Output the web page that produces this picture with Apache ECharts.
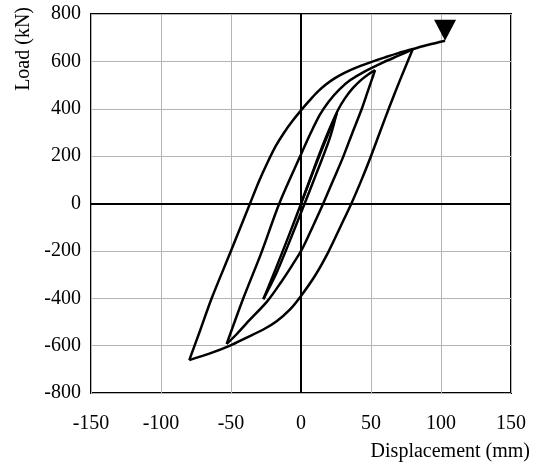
<!DOCTYPE html>
<html>
<head>
<meta charset="utf-8">
<script src="https://cdn.jsdelivr.net/npm/echarts@6/dist/echarts.min.js"></script>
<style>
  html, body { margin: 0; padding: 0; background: #fff; }
  #chart { width: 533px; height: 467px; }
</style>
</head>
<body>
<div id="chart"></div>
<script>
// Hysteresis curve, [displacement mm, load kN]
const initialLoad = [[0, 0], [12, 185], [25.5, 381]];
const cycle1Unload = [[20.5, 275], [10.9, 125], [0.9, -25], [-9.5, -180], [-18, -300], [-26.9, -404]];
const cycle1Reload = [[-18, -275], [-8, -125], [2, 30], [12.4, 198], [20, 310], [26.7, 398],
  [31.5, 445], [37, 487], [43, 522], [48, 545], [52.9, 563]];
const cycle2Unload = [[47.5, 470], [43.3, 398], [36.8, 300], [30.2, 198], [23, 98], [15.9, 0],
  [8.2, -100], [1, -190], [-6, -258], [-14, -330], [-24, -412], [-38.8, -505], [-46, -552], [-53.1, -593]];
const cycle2Reload = [[-41.2, -400], [-28, -203], [-15.5, 0], [-0.7, 198], [6.5, 292], [13.5, 375],
  [20, 432], [27.5, 482], [35, 520], [45, 556], [58.8, 596], [70, 625], [79.8, 651]];
const cycle3Unload = [[71, 525], [63, 405], [56.6, 305], [50.3, 205], [43.6, 105], [36, 0],
  [28, -100], [19.5, -205], [10, -305], [0, -390], [-8, -448], [-17.4, -497], [-26.9, -532],
  [-38.8, -566], [-50.7, -600], [-65, -633], [-79.8, -661]];
const finalReload = [[-72, -535], [-63.8, -400], [-50.2, -203], [-36.4, 0], [-30, 94], [-24, 172],
  [-18, 243], [-12, 300], [-6, 349], [0, 393], [6, 434], [12, 472], [18, 503], [24, 528], [30, 548],
  [36, 565], [43, 582], [50, 597], [60, 617], [70, 636], [79.8, 652], [91, 670], [102.9, 687]];
const failurePoint = [[102.9, 687]];

const xTicks = { min: -150, max: 150, interval: 50 };
const yTicks = { min: -800, max: 800, interval: 200 };

// each branch is smoothed on its own so the load reversal tips stay sharp
const branches = [initialLoad, cycle1Unload, cycle1Reload, cycle2Unload,
  cycle2Reload, cycle3Unload, finalReload];

const serif = 'Liberation Serif, Times New Roman, serif';
const chart = echarts.init(document.getElementById('chart'), null, { renderer: 'canvas' });

const branchSeries = branches.map((pts, i) => {
  const start = i > 0 ? [branches[i - 1][branches[i - 1].length - 1]] : [];
  return {
    type: 'line',
    data: start.concat(pts),
    showSymbol: false,
    smooth: 0.3,
    lineStyle: { color: '#000', width: 2.5 },
    z: 3,
  };
});

// zero lines through the origin, hung on the first branch
branchSeries[0].markLine = {
  silent: true,
  symbol: 'none',
  label: { show: false },
  lineStyle: { color: '#000', width: 2, type: 'solid' },
  data: [{ xAxis: 0 }, { yAxis: 0 }],
};

chart.setOption({
  animation: false,
  backgroundColor: '#fff',
  grid: {
    left: 91, right: 22, top: 14, bottom: 74,
    show: true, borderColor: '#000', borderWidth: 2,
  },
  xAxis: {
    type: 'value',
    min: xTicks.min, max: xTicks.max, interval: xTicks.interval,
    axisLine: { show: false },
    axisTick: { show: false },
    axisLabel: { color: '#000', fontFamily: serif, fontSize: 20, margin: 21 },
    splitLine: { lineStyle: { color: '#b4b4b4', width: 1 } },
  },
  yAxis: {
    type: 'value',
    min: yTicks.min, max: yTicks.max, interval: yTicks.interval,
    axisLine: { show: false },
    axisTick: { show: false },
    axisLabel: { color: '#000', fontFamily: serif, fontSize: 20, margin: 10 },
    splitLine: { lineStyle: { color: '#b4b4b4', width: 1 } },
  },
  graphic: [
    {
      type: 'text', left: 14, top: 7, rotation: Math.PI / 2,
      style: { text: 'Load (kN)', font: '20px ' + serif, fill: '#000' },
    },
    {
      type: 'text', right: 3, top: 442,
      style: { text: 'Displacement (mm)', font: '20px ' + serif, fill: '#000' },
    },
  ],
  series: branchSeries.concat([
    {
      type: 'scatter',
      data: failurePoint,
      symbol: 'triangle',
      symbolRotate: 180,
      symbolSize: [22, 21],
      symbolOffset: [0, '-50%'],
      itemStyle: { color: '#000', opacity: 1 },
      z: 4,
    },
  ]),
});
</script>
</body>
</html>
